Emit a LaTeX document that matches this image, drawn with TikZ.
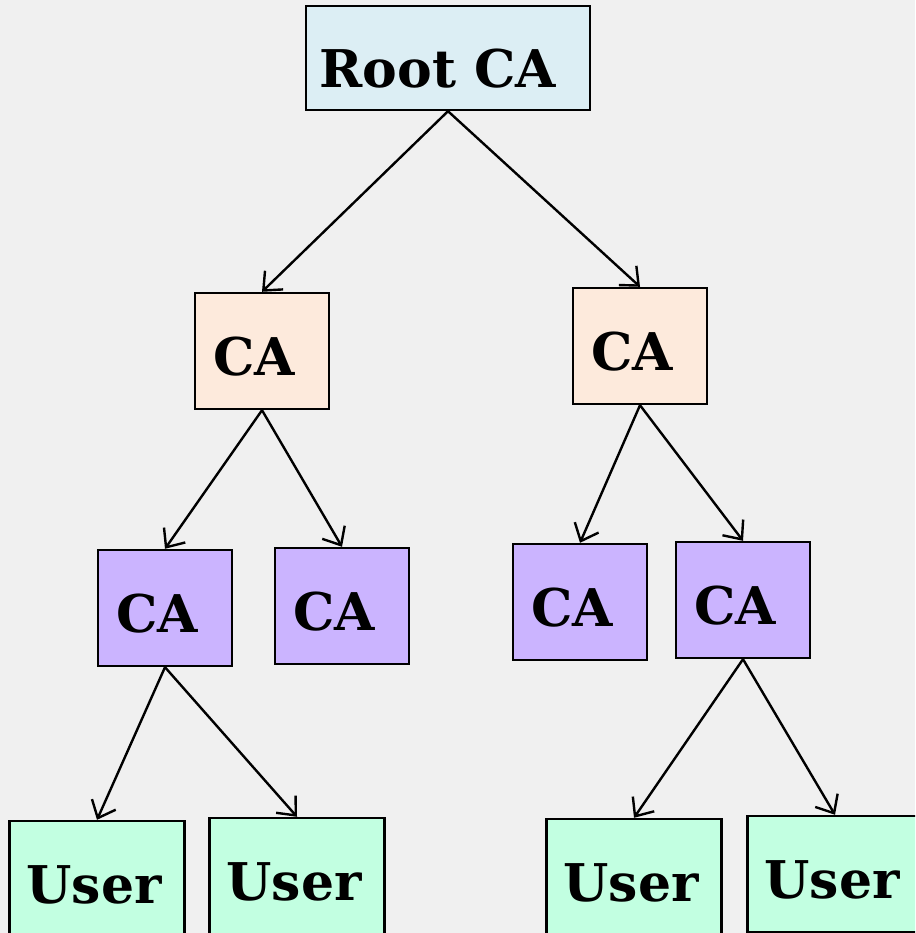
\documentclass[tikz,border=0pt]{standalone}
\usepackage{fontspec}
\setmainfont{DejaVu Serif}
\usetikzlibrary{arrows.meta,positioning}
\definecolor{pkiBack}{RGB}{240,240,240}
\definecolor{pkiRoot}{RGB}{220,238,244}
\definecolor{pkiMid}{RGB}{253,234,220}
\definecolor{pkiSub}{RGB}{203,180,255}
\definecolor{pkiUser}{RGB}{194,255,225}
\begin{document}
\begin{tikzpicture}[x=1pt,y=-1pt]
\tikzset{
box/.style={draw=black,line width=2.4pt,inner sep=0pt,
font=\bfseries\fontsize{52}{56}\selectfont,text=black,text height=50pt,text depth=2pt},
rootbox/.style={box,fill=pkiRoot,minimum width=284pt,minimum height=104pt,text height=62pt,
execute at end node={\hspace*{20pt}}},
midbox/.style={box,fill=pkiMid,minimum width=134pt,minimum height=116pt,
execute at end node={\hspace*{16pt}}},
subbox/.style={box,fill=pkiSub,minimum width=134pt,minimum height=116pt,
execute at end node={\hspace*{16pt}}},
userbox/.style={box,fill=pkiUser,minimum width=175pt,minimum height=116pt,
execute at end node={\hspace*{6pt}}},
link/.style={-{Straight Barb[length=15pt,width=26pt]},line width=2.4pt,draw=black}
}
\fill[pkiBack] (0,0) rectangle (915,933);
\clip (0,0) rectangle (915,933);

% top of the chain
\node[rootbox] (root) at (448,58) {Root CA};

% intermediate CAs
\node[midbox] (caL) at (262,351) {CA};
\node[midbox] (caR) at (640,346) {CA};

% issuing CAs
\node[subbox] (caLL) at (165,608) {CA};
\node[subbox] (caLR) at (342,606) {CA};
\node[subbox] (caRL) at (580,602) {CA};
\node[subbox] (caRR) at (743,600) {CA};

% end entities
\node[userbox] (usrA) at (97,879) {User};
\node[userbox] (usrB) at (297,876) {User};
\node[userbox] (usrC) at (634,877) {User};
\node[userbox] (usrD) at (835,874) {User};

\draw[link] (root.south) -- (caL.north);
\draw[link] (root.south) -- (caR.north);
\draw[link] (caL.south) -- (caLL.north);
\draw[link] (caL.south) -- (caLR.north);
\draw[link] (caR.south) -- (caRL.north);
\draw[link] (caR.south) -- (caRR.north);
\draw[link] (caLL.south) -- (usrA.north);
\draw[link] (caLL.south) -- (usrB.north);
\draw[link] (caRR.south) -- (usrC.north);
\draw[link] (caRR.south) -- (usrD.north);
\end{tikzpicture}
\end{document}
